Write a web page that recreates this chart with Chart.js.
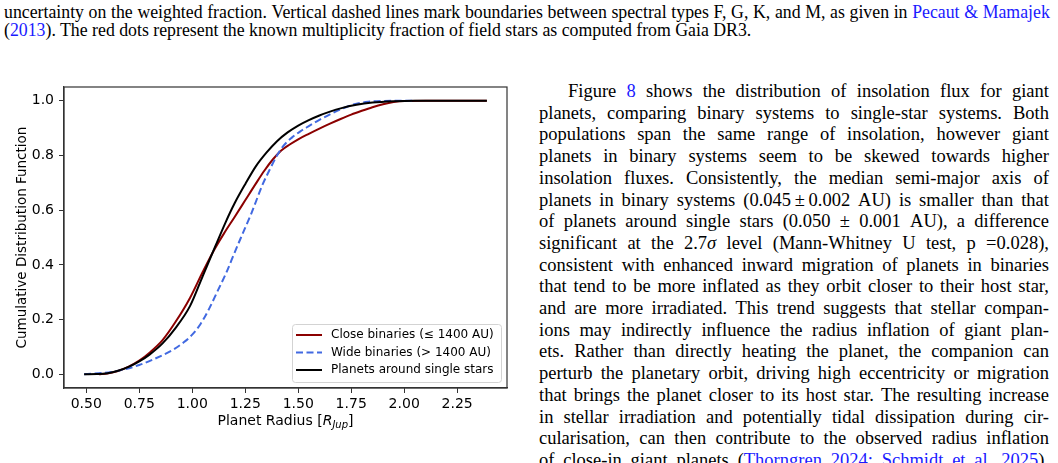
<!DOCTYPE html>
<html>
<head>
<meta charset="utf-8">
<script src="https://cdn.jsdelivr.net/npm/chart.js@4.4.1/dist/chart.umd.min.js"></script>
<style>
html, body { margin: 0; padding: 0; background: #fff; }
body { width: 1058px; height: 463px; overflow: hidden; position: relative;
       font-family: 'Liberation Serif', 'Times New Roman', serif; color: #000; }
a { color: #1a1aff; text-decoration: none; }
.ln { display: flex; justify-content: space-between; white-space: nowrap; }
.plain { white-space: nowrap; }
#caption { position: absolute; left: 4px; top: 3px; width: 1046px; font-size: 17.8px; line-height: 18px; }
#body { position: absolute; left: 539px; top: 81px; width: 510px; font-size: 18.5px; line-height: 21.7px; }
#body .ind { padding-left: 29px; }
#chartBox { position: absolute; left: 0; top: 80px; width: 520px; height: 350px; }
</style>
</head>
<body>

<div id="caption">
  <div class="ln">uncertainty on the weighted fraction. Vertical dashed lines mark boundaries between spectral types F, G, K, and M, as given in <a>Pecaut</a> <a>&amp;</a> <a>Mamajek</a></div>
  <div class="plain">(<a>2013</a>). The red dots represent the known multiplicity fraction of field stars as computed from Gaia DR3.</div>
</div>

<div id="chartBox"><canvas id="cdfChart" width="520" height="350"></canvas></div>

<div id="body">
  <div class="ln ind">Figure <a>8</a> shows the distribution of insolation flux for giant</div>
  <div class="ln">planets, comparing binary systems to single-star systems. Both</div>
  <div class="ln">populations span the same range of insolation, however giant</div>
  <div class="ln">planets in binary systems seem to be skewed towards higher</div>
  <div class="ln">insolation fluxes. Consistently, the median semi-major axis of</div>
  <div class="ln">planets in binary systems (0.045&thinsp;±&thinsp;0.002 AU) is smaller than that</div>
  <div class="ln">of planets around single stars (0.050 ± 0.001 AU), a difference</div>
  <div class="ln">significant at the 2.7<i>σ</i> level (Mann-Whitney U test, p =0.028),</div>
  <div class="ln">consistent with enhanced inward migration of planets in binaries</div>
  <div class="ln">that tend to be more inflated as they orbit closer to their host star,</div>
  <div class="ln">and are more irradiated. This trend suggests that stellar compan-</div>
  <div class="ln">ions may indirectly influence the radius inflation of giant plan-</div>
  <div class="ln">ets. Rather than directly heating the planet, the companion can</div>
  <div class="ln">perturb the planetary orbit, driving high eccentricity or migration</div>
  <div class="ln">that brings the planet closer to its host star. The resulting increase</div>
  <div class="ln">in stellar irradiation and potentially tidal dissipation during cir-</div>
  <div class="ln">cularisation, can then contribute to the observed radius inflation</div>
  <div class="ln">of close-in giant planets (<a>Thorngren</a> <a>2024;</a> <a>Schmidt</a> <a>et</a> <a>al.</a> <a>2025</a>).</div>
</div>

<script>
// justified lines: one span per word, spread by flexbox
document.querySelectorAll('.ln').forEach(el => {
    el.innerHTML = el.innerHTML.trim().split(/[ \t\n]+/).map(w => '<span>' + w + '</span>').join('');
});

// ---- data ----
const closeR   = [0.56, 0.60, 0.65, 0.70, 0.75, 0.80, 0.86, 0.92, 0.99, 1.05, 1.10, 1.15, 1.20, 1.25, 1.30, 1.34, 1.38, 1.42, 1.46, 1.50, 1.55, 1.60, 1.65, 1.70, 1.75, 1.80, 1.85, 1.90, 1.95, 2.00, 2.10, 2.39];
const closeCdf = [0.0, 0.003, 0.012, 0.028, 0.05, 0.08, 0.125, 0.19, 0.28, 0.375, 0.45, 0.515, 0.575, 0.636, 0.697, 0.744, 0.785, 0.818, 0.84, 0.859, 0.879, 0.898, 0.916, 0.933, 0.949, 0.963, 0.976, 0.987, 0.995, 0.999, 1.0, 1.0];

const wideR    = [0.49, 0.63, 0.75, 0.86, 0.91, 0.96, 1.00, 1.04, 1.08, 1.12, 1.16, 1.20, 1.23, 1.28, 1.33, 1.37, 1.40, 1.43, 1.47, 1.51, 1.55, 1.60, 1.65, 1.71, 1.77, 1.83, 1.90, 2.05];
const wideCdf  = [0.0, 0.01, 0.034, 0.07, 0.09, 0.117, 0.145, 0.185, 0.24, 0.305, 0.37, 0.445, 0.50, 0.59, 0.69, 0.755, 0.80, 0.835, 0.865, 0.888, 0.907, 0.93, 0.95, 0.972, 0.988, 0.996, 0.999, 1.0];

const singleR   = [0.49, 0.55, 0.60, 0.65, 0.70, 0.75, 0.80, 0.86, 0.92, 0.99, 1.05, 1.11, 1.16, 1.20, 1.25, 1.30, 1.35, 1.40, 1.45, 1.50, 1.55, 1.60, 1.65, 1.70, 1.775, 1.85, 1.95, 2.05, 2.39];
const singleCdf = [0.0, 0.001, 0.004, 0.013, 0.027, 0.047, 0.073, 0.113, 0.168, 0.25, 0.36, 0.47, 0.56, 0.625, 0.695, 0.76, 0.81, 0.852, 0.884, 0.909, 0.929, 0.946, 0.96, 0.972, 0.985, 0.993, 0.998, 1.0, 1.0];

const xTicks = [0.50, 0.75, 1.00, 1.25, 1.50, 1.75, 2.00, 2.25];
const yTicks = [0.0, 0.2, 0.4, 0.6, 0.8, 1.0];

const toXY = (xs, ys) => xs.map((x, i) => ({ x: x, y: ys[i] }));

const FONT = "'DejaVu Sans', sans-serif";

// matplotlib-like box around the axes
const frame = {
    id: 'frame',
    afterDraw(chart) {
        const { ctx, chartArea: a } = chart;
        ctx.save();
        ctx.strokeStyle = '#333';
        ctx.lineWidth = 1.2;
        ctx.strokeRect(a.left, a.top, a.right - a.left, a.bottom - a.top);
        ctx.restore();
    }
};

// legend box in the lower right of the axes
const legendBox = {
    id: 'legendBox',
    afterDatasetsDraw(chart) {
        const { ctx, chartArea: a } = chart;
        const w = 209, h = 58;
        const x = a.right - 6 - w, y = a.bottom - 6 - h;
        ctx.save();
        ctx.beginPath();
        ctx.roundRect(x + 0.5, y + 0.5, w, h, 3);
        ctx.fillStyle = 'rgba(255,255,255,0.8)';
        ctx.fill();
        ctx.strokeStyle = '#d3d3d3';
        ctx.lineWidth = 1;
        ctx.stroke();
        ctx.font = '12px ' + FONT;
        ctx.textBaseline = 'middle';
        chart.data.datasets.forEach((ds, i) => {
            const ry = y + 11 + i * 17.5;
            ctx.beginPath();
            ctx.setLineDash(ds.borderDash || []);
            ctx.strokeStyle = ds.borderColor;
            ctx.lineWidth = ds.borderWidth;
            ctx.moveTo(x + 4, ry);
            ctx.lineTo(x + 30, ry);
            ctx.stroke();
            ctx.setLineDash([]);
            ctx.fillStyle = '#000';
            ctx.fillText(ds.label, x + 39, ry);
        });
        ctx.restore();
    }
};

// x axis title with italic subscript
const xTitle = {
    id: 'xTitle',
    afterDraw(chart) {
        const { ctx, chartArea: a } = chart;
        const parts = [
            ['Planet Radius [', '14px ' + FONT, 0],
            ['R', 'italic 14px ' + FONT, 0],
            ['Jup', 'italic 10px ' + FONT, 3],
            [']', '14px ' + FONT, 0]
        ];
        ctx.save();
        ctx.textBaseline = 'alphabetic';
        ctx.fillStyle = '#000';
        let total = 0;
        parts.forEach(p => { ctx.font = p[1]; total += ctx.measureText(p[0]).width; });
        let cx = (a.left + a.right) / 2 - total / 2;
        const by = a.bottom + 37;
        parts.forEach(p => {
            ctx.font = p[1];
            ctx.fillText(p[0], cx, by + p[2]);
            cx += ctx.measureText(p[0]).width;
        });
        ctx.restore();
    }
};

new Chart(document.getElementById('cdfChart').getContext('2d'), {
    type: 'line',
    data: {
        datasets: [{
            label: 'Close binaries (≤ 1400 AU)',
            data: toXY(closeR, closeCdf),
            borderColor: '#8b0000',
            borderWidth: 2,
            order: 2
        }, {
            label: 'Wide binaries (> 1400 AU)',
            data: toXY(wideR, wideCdf),
            borderColor: '#4169e1',
            borderWidth: 2,
            borderDash: [7, 3.5],
            order: 1
        }, {
            label: 'Planets around single stars',
            data: toXY(singleR, singleCdf),
            borderColor: '#000000',
            borderWidth: 2,
            order: 0
        }]
    },
    options: {
        responsive: false,
        animation: false,
        events: [],
        layout: { padding: { top: 7, right: 13, left: 0, bottom: 0 } },
        elements: {
            point: { radius: 0 },
            line: { cubicInterpolationMode: 'monotone', fill: false }
        },
        plugins: {
            legend: { display: false },
            tooltip: { enabled: false }
        },
        scales: {
            x: {
                type: 'linear',
                min: 0.395,
                max: 2.485,
                afterBuildTicks: s => { s.ticks = xTicks.map(v => ({ value: v })); },
                afterFit: s => { s.height = 42; s.paddingLeft = 0; s.paddingRight = 0; },
                ticks: {
                    callback: v => v.toFixed(2),
                    color: '#000',
                    font: { family: FONT, size: 14 },
                    padding: 3,
                    maxRotation: 0,
                    autoSkip: false
                },
                grid: { drawOnChartArea: false, tickLength: 5, color: '#333' },
                border: { color: '#333', width: 1.2 }
            },
            y: {
                type: 'linear',
                min: -0.05,
                max: 1.05,
                afterBuildTicks: s => { s.ticks = yTicks.map(v => ({ value: v })); },
                afterFit: s => { s.width = 64; s.paddingTop = 0; s.paddingBottom = 0; },
                ticks: {
                    callback: v => v.toFixed(1),
                    color: '#000',
                    font: { family: FONT, size: 14 },
                    padding: 5
                },
                title: {
                    display: true,
                    text: 'Cumulative Distribution Function',
                    color: '#000',
                    font: { family: FONT, size: 13.5 },
                    padding: { top: 14, bottom: 0 }
                },
                grid: { drawOnChartArea: false, tickLength: 5, color: '#333' },
                border: { color: '#333', width: 1.2 }
            }
        }
    },
    plugins: [legendBox, frame, xTitle]
});
</script>
</body>
</html>
